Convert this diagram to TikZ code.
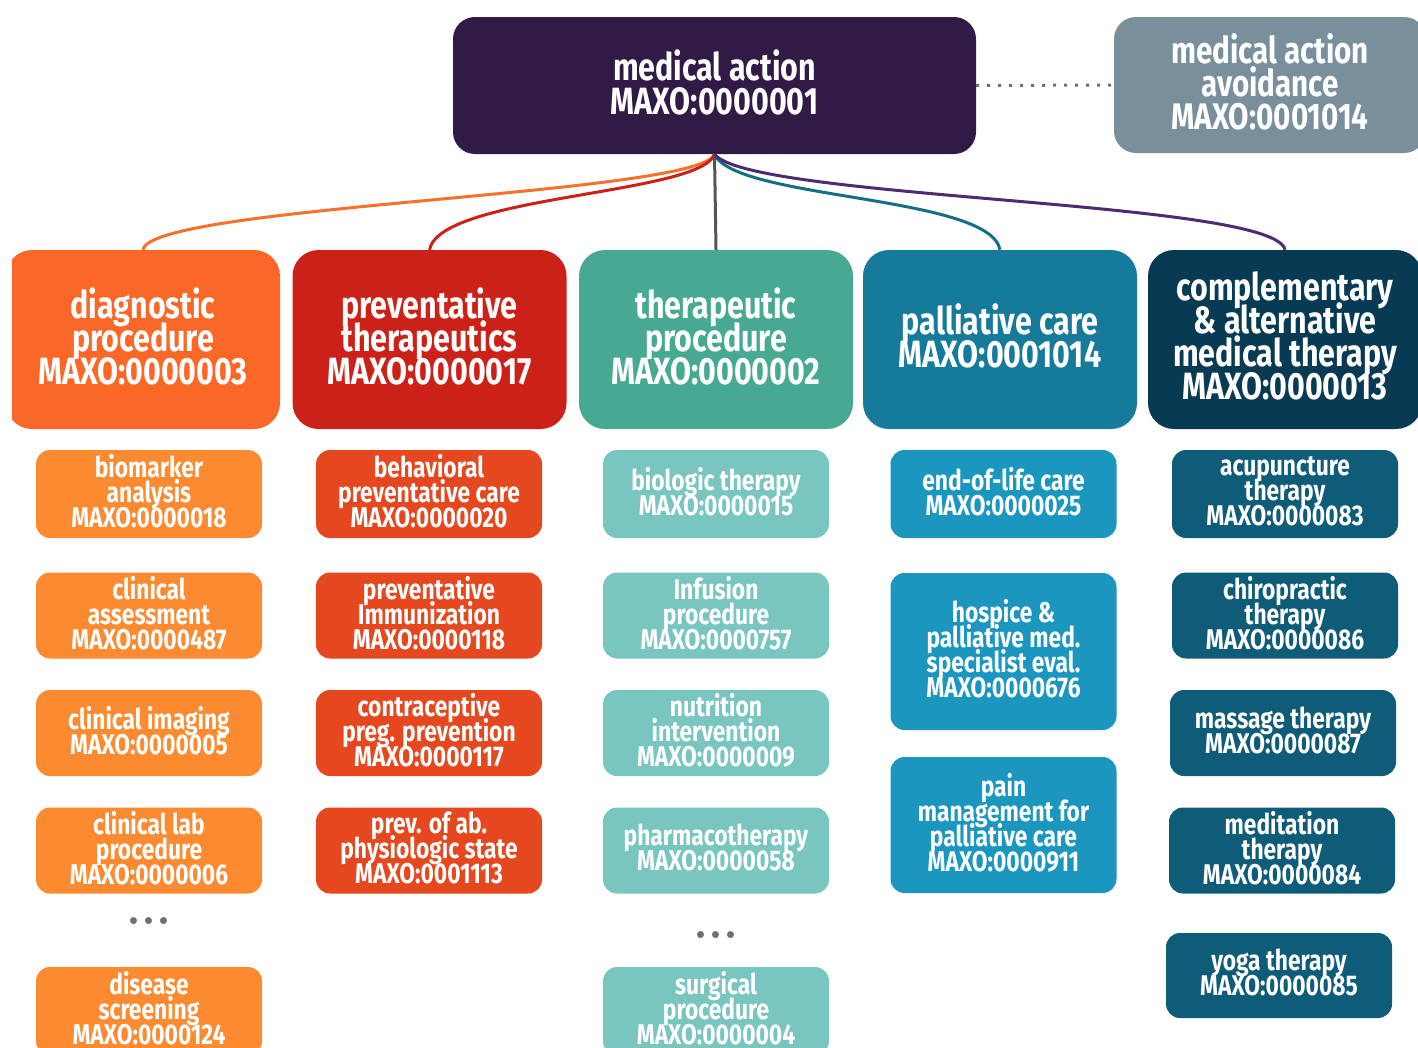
\documentclass[tikz,border=0pt]{standalone}
\usepackage{fontspec}
\newfontfamily\osw[FakeStretch=0.8]{Fira Sans}
\definecolor{cRoot}{HTML}{311A45}
\definecolor{cAvoid}{HTML}{798F9B}
\definecolor{cDiag}{HTML}{FB6726}
\definecolor{cPrev}{HTML}{CC2118}
\definecolor{cTher}{HTML}{48A993}
\definecolor{cPall}{HTML}{167A9B}
\definecolor{cComp}{HTML}{083A53}
\definecolor{lDiag}{HTML}{FB8A30}
\definecolor{lPrev}{HTML}{E5471F}
\definecolor{lTher}{HTML}{79C5BF}
\definecolor{lPall}{HTML}{1B97BF}
\definecolor{lComp}{HTML}{0E5C78}
\definecolor{kOrange}{HTML}{F8702A}
\definecolor{kRed}{HTML}{CC2118}
\definecolor{kGray}{HTML}{555555}
\definecolor{kTeal}{HTML}{136E86}
\definecolor{kPurple}{HTML}{4B2C73}
\definecolor{kDots}{HTML}{707070}
\newcommand\oswfont[2]{\osw\bfseries\fontsize{#1}{#2}\selectfont\lineskiplimit=-100pt\lineskip=0pt}
\begin{document}
\begin{tikzpicture}[x=1pt,y=-1pt,
  catbox/.style={rounded corners=26pt, inner sep=0pt, align=center, text=white, text depth=7pt,
    font=\oswfont{38}{33}, minimum width=274pt, minimum height=179pt},
  leafbox/.style={rounded corners=14pt, inner sep=0pt, align=center, text=white, text depth=6pt,
    font=\oswfont{28.5}{25}, minimum width=226pt, minimum height=86pt},
  link/.style={line width=3pt},
  more/.style={anchor=base, text=kDots, font=\bfseries\fontsize{48}{48}\selectfont, inner sep=0pt}
]
\useasboundingbox (0,0) rectangle (1418,1047);
\begin{scope}
\clip (12,-20) rectangle (1418,1060);

% root and avoidance
\node[catbox, fill=cRoot, minimum width=523pt, minimum height=137pt, rounded corners=22pt,
  font=\oswfont{38}{34}] (root) at (714.5,85.5) {medical action\\MAXO:0000001};
\node[catbox, fill=cAvoid, minimum width=312pt, minimum height=136pt, rounded corners=22pt,
  font=\oswfont{37}{33}] (avoid) at (1270,85) {medical action\\avoidance\\MAXO:0001014};

% categories
\node[catbox, fill=cDiag] (diag) at (143,339.5) {diagnostic\\procedure\\MAXO:0000003};
\node[catbox, fill=cPrev] (prev) at (429.5,339.5) {preventative\\therapeutics\\MAXO:0000017};
\node[catbox, fill=cTher] (ther) at (716,339.5) {therapeutic\\procedure\\MAXO:0000002};
\node[catbox, fill=cPall] (pall) at (1000,339.5) {palliative care\\MAXO:0001014};
\node[catbox, fill=cComp] (comp) at (1285,339.5) {complementary\\\& alternative\\medical therapy\\MAXO:0000013};

% connectors
\draw[link, kOrange] (root.south) .. controls (700,195) and (150,205) .. (diag.north);
\draw[link, kRed] (root.south) .. controls (700,195) and (440,195) .. (prev.north);
\draw[link, kGray] (root.south) -- (ther.north);
\draw[link, kTeal] (root.south) .. controls (735,200) and (990,195) .. (pall.north);
\draw[link, kPurple] (root.south) .. controls (750,200) and (1275,200) .. (comp.north);
\draw[kDots, line width=3pt, dash pattern=on 3pt off 8pt] (root.east) -- (avoid.west);

% diagnostic column
\node[leafbox, fill=lDiag, minimum height=88pt] (d1) at (149,494) {biomarker\\analysis\\MAXO:0000018};
\node[leafbox, fill=lDiag] (d2) at (149,615.5) {clinical\\assessment\\MAXO:0000487};
\node[leafbox, fill=lDiag] (d3) at (149,733) {clinical imaging\\MAXO:0000005};
\node[leafbox, fill=lDiag] (d4) at (149,850.5) {clinical lab\\procedure\\MAXO:0000006};
\node[more] (dm) at (149,924) {...};
\node[leafbox, fill=lDiag, minimum height=88pt] (d5) at (149,1011) {disease\\screening\\MAXO:0000124};

% preventative column
\node[leafbox, fill=lPrev, minimum height=88pt] (p1) at (429,494) {behavioral\\preventative care\\MAXO:0000020};
\node[leafbox, fill=lPrev] (p2) at (429,615.5) {preventative\\Immunization\\MAXO:0000118};
\node[leafbox, fill=lPrev] (p3) at (429,733) {contraceptive\\preg. prevention\\MAXO:0000117};
\node[leafbox, fill=lPrev] (p4) at (429,850.5) {prev. of ab.\\physiologic state\\MAXO:0001113};

% therapeutic column
\node[leafbox, fill=lTher, minimum height=88pt] (t1) at (716,494) {biologic therapy\\MAXO:0000015};
\node[leafbox, fill=lTher] (t2) at (716,615.5) {Infusion\\procedure\\MAXO:0000757};
\node[leafbox, fill=lTher] (t3) at (716,733) {nutrition\\intervention\\MAXO:0000009};
\node[leafbox, fill=lTher] (t4) at (716,850.5) {pharmacotherapy\\MAXO:0000058};
\node[more] (tm) at (716,938) {...};
\node[leafbox, fill=lTher, minimum height=88pt] (t5) at (716,1011) {surgical\\procedure\\MAXO:0000004};

% palliative column
\node[leafbox, fill=lPall, minimum height=88pt] (a1) at (1003.5,494) {end-of-life care\\MAXO:0000025};
\node[leafbox, fill=lPall, minimum height=157pt] (a2) at (1003.5,651.5) {hospice \&\\palliative med.\\specialist eval.\\MAXO:0000676};
\node[leafbox, fill=lPall, minimum height=136pt] (a3) at (1003.5,825) {pain\\management for\\palliative care\\MAXO:0000911};

% complementary column
\node[leafbox, fill=lComp, minimum height=88pt] (c1) at (1285,494) {acupuncture\\therapy\\MAXO:0000083};
\node[leafbox, fill=lComp] (c2) at (1285,615.5) {chiropractic\\therapy\\MAXO:0000086};
\node[leafbox, fill=lComp] (c3) at (1283,733) {massage therapy\\MAXO:0000087};
\node[leafbox, fill=lComp] (c4) at (1282,850.5) {meditation\\therapy\\MAXO:0000084};
\node[leafbox, fill=lComp, minimum height=85pt] (c5) at (1279,975.5) {yoga therapy\\MAXO:0000085};
\end{scope}
\end{tikzpicture}
\end{document}
